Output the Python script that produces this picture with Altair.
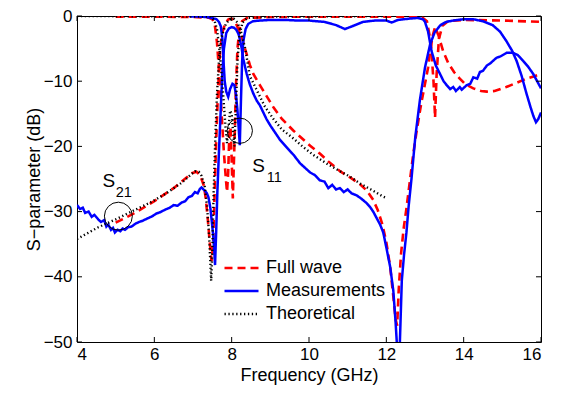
import altair as alt
import pandas as pd

# ---------------- data ----------------
SOURCES = ["Full wave", "Measurements", "Theoretical"]
COLORS = ["#ff0000", "#0000ff", "#000000"]
DASHES = [[8, 5], [1, 0], [1.3, 2.6]]
WIDTHS = [2.6, 2.4, 1.3]

X_TICKS = [4, 6, 8, 10, 12, 14, 16]
Y_TICKS = [0, -10, -20, -30, -40, -50]

# Measurements, S21
meas_s21_f = [4.0, 4.08, 4.15, 4.21, 4.3, 4.38, 4.45, 4.55, 4.62, 4.7, 4.76, 4.81, 4.88, 4.93, 4.98,
              5.05, 5.12, 5.18, 5.24, 5.32, 5.41, 5.5, 5.6, 5.7, 5.84, 5.95, 6.05, 6.15, 6.28, 6.4,
              6.5, 6.6, 6.71, 6.8, 6.88, 6.97, 7.05, 7.12, 7.18, 7.22, 7.27, 7.31, 7.36, 7.4, 7.45,
              7.48, 7.52, 7.55, 7.57, 7.6, 7.63, 7.67, 7.72, 7.76, 7.8, 7.86, 7.93, 8.0, 8.06, 8.12,
              8.18, 8.22, 8.26, 8.3, 8.39, 8.47, 8.56, 8.65, 8.73, 8.9, 9.0, 9.16, 9.25, 9.4, 9.6,
              9.77, 9.9, 10.03, 10.15, 10.28, 10.4, 10.5, 10.6, 10.7, 10.8, 10.9, 11.0, 11.1, 11.23,
              11.35, 11.49, 11.58, 11.66, 11.75, 11.84, 11.92, 12.0, 12.1, 12.18, 12.24, 12.29, 12.34,
              12.4, 12.46, 12.52, 12.58, 12.65, 12.75, 12.87, 13.0, 13.13, 13.25, 13.4, 13.55, 13.73,
              14.0, 14.25, 14.5, 14.75, 14.94, 15.1, 15.25, 15.37, 15.5, 15.62, 15.72, 15.8, 15.87,
              15.93, 16.0]
meas_s21_db = [-29.0, -29.6, -29.4, -30.2, -30.0, -30.8, -30.5, -31.2, -31.6, -31.3, -32.3, -32.0, -32.8, -32.5, -33.2,
               -32.8, -33.0, -32.6, -32.8, -32.4, -32.3, -31.9, -31.6, -31.4, -31.0, -30.7, -30.3, -30.1, -29.7, -29.4,
               -29.0, -29.1, -28.6, -28.4, -27.8, -27.6, -27.0, -27.2, -26.5, -26.3, -26.6, -26.8, -27.2, -27.8, -29.5,
               -31.2, -33.5, -36.0, -38.2, -33.0, -27.0, -21.0, -14.0, -8.5, -5.0, -2.6, -1.9, -1.7, -1.8, -2.1,
               -2.8, -3.8, -5.0, -6.6, -8.9, -10.5, -11.9, -13.0, -13.7, -15.8, -16.8, -18.2, -19.0, -20.0, -21.3,
               -22.6, -23.3, -24.0, -24.4, -25.2, -25.4, -26.4, -25.9, -26.6, -26.4, -27.0, -26.6, -27.2, -27.5,
               -28.0, -28.7, -29.3, -30.0, -31.0, -32.0, -33.2, -35.5, -38.5, -42.1, -47.0, -52.0, -52.0,
               -40.6, -36.5, -33.2, -29.0, -25.0, -18.5, -12.8, -7.9, -4.4, -2.5, -1.4, -0.9, -0.7,
               -0.5, -0.5, -0.8, -1.4, -2.4, -3.8, -5.3, -6.9, -9.2, -11.8, -13.8, -15.3, -16.3,
               -15.8, -14.8]

# Measurements, S11
meas_s11_f = [6.9, 7.2, 7.4, 7.55, 7.61, 7.67, 7.72, 7.76, 7.79, 7.82, 7.86, 7.91, 7.96, 8.02, 8.07,
              8.11, 8.15, 8.18, 8.21, 8.24, 8.27, 8.3, 8.36, 8.43, 8.55, 8.73, 9.0, 9.4, 9.7, 10.0,
              10.4, 10.7, 10.93, 11.15, 11.4, 11.7, 12.0, 12.14, 12.3, 12.6, 12.8, 12.95, 13.0, 13.08,
              13.17, 13.28, 13.39, 13.48, 13.56, 13.65, 13.73, 13.8, 13.9, 13.95, 14.08, 14.17, 14.25,
              14.35, 14.42, 14.5, 14.6, 14.7, 14.85, 14.95, 15.11, 15.28, 15.4, 15.54, 15.67, 15.8,
              15.9, 16.0]
meas_s11_db = [-0.05, -0.1, -0.2, -0.4, -0.5, -0.9, -1.6, -3.5, -7.0, -10.0, -11.6, -12.4, -11.2, -10.4, -10.6,
               -12.0, -14.5, -17.0, -19.8, -13.0, -7.0, -3.9, -2.0, -1.2, -0.8, -0.7, -0.6, -0.6, -0.7, -0.7,
               -0.9, -1.4, -2.0, -1.5, -0.9, -0.7, -0.7, -1.0, -0.6, -0.4, -0.3, -0.5, -0.9, -2.4,
               -5.4, -7.6, -8.9, -10.0, -10.6, -11.2, -10.9, -11.5, -10.9, -11.3, -10.6, -10.4, -9.4,
               -9.6, -8.6, -8.4, -7.6, -7.2, -6.4, -6.2, -5.65, -5.65, -6.0, -6.9, -7.8, -8.9,
               -10.0, -11.1]

# Full wave, S21
fw_s21_f = [5.0, 5.5, 6.0, 6.5, 6.97, 7.09, 7.16, 7.22, 7.28, 7.33, 7.38, 7.43, 7.48, 7.52, 7.56,
            7.6, 7.65, 7.7, 7.76, 7.84, 7.92, 8.0, 8.07, 8.13, 8.2, 8.26, 8.34, 8.47, 8.56, 8.73,
            9.08, 9.3, 9.6, 10.03, 10.28, 10.5, 10.8, 11.1, 11.32, 11.5, 11.66, 11.78, 11.9, 12.0,
            12.1, 12.18, 12.24, 12.28, 12.32, 12.38, 12.45, 12.52, 12.6, 12.7, 12.78, 12.9, 13.0,
            13.08, 13.13, 13.2, 13.26, 13.35, 13.47, 13.6, 13.75, 13.9, 14.05, 14.25, 14.45, 14.6,
            14.8, 15.1, 15.35, 15.63, 15.85, 16.0]
fw_s21_db = [-31.7, -30.2, -28.4, -26.4, -24.1, -23.9, -24.3, -25.0, -26.0, -28.0, -31.0, -34.5, -37.6, -35.0, -27.0,
             -19.0, -11.0, -5.5, -2.5, -1.0, -0.5, -0.4, -0.7, -1.4, -2.4, -3.2, -4.9, -7.5, -8.9, -10.6,
             -14.0, -15.8, -17.6, -19.9, -21.1, -22.3, -23.8, -24.9, -25.8, -26.8, -28.2, -29.8, -32.0, -34.7,
             -38.5, -43.0, -46.5, -47.5, -42.0, -36.5, -32.5, -29.5, -25.7, -21.0, -17.8, -13.5, -10.4,
             -7.9, -5.5, -3.0, -1.7, -3.0, -5.4, -7.2, -8.6, -9.6, -10.5, -11.1, -11.5, -11.6,
             -11.5, -10.9, -10.3, -9.6, -9.2, -8.9]

# Full wave, S11
fw_s11_f = [5.0, 6.0, 7.0, 7.4, 7.5, 7.56, 7.62, 7.68, 7.74, 7.8, 7.85, 7.88, 7.91, 7.94, 7.97,
            8.0, 8.03, 8.07, 8.11, 8.15, 8.2, 8.27, 8.4, 9.0, 10.0, 11.0, 12.0, 12.9, 13.05, 13.15,
            13.22, 13.26, 13.3, 13.36, 13.45, 13.6, 14.0, 15.0, 16.0]
fw_s11_db = [-0.1, -0.1, -0.15, -0.25, -0.5, -1.2, -4.0, -9.0, -15.0, -21.0, -25.0, -27.0, -24.0, -18.0, -17.0,
             -22.0, -28.0, -20.0, -11.0, -5.0, -2.0, -0.8, -0.3, -0.15, -0.1, -0.1, -0.1, -0.1, -0.8, -4.0,
             -10.0, -15.6, -9.0, -3.5, -1.5, -0.8, -0.6, -0.7, -0.9]

# Theoretical, S21
th_s21_f = [4.0, 4.55, 5.0, 5.41, 5.9, 6.28, 6.7, 7.05, 7.15, 7.22, 7.3, 7.36, 7.41, 7.45, 7.47,
            7.5, 7.53, 7.57, 7.62, 7.68, 7.75, 7.85, 7.95, 8.05, 8.15, 8.25, 8.35, 8.47, 8.65, 8.85,
            9.08, 9.3, 9.6, 9.85, 10.11, 10.45, 10.8, 11.05, 11.32, 11.6, 11.92, 12.0]
th_s21_db = [-34.2, -32.4, -31.2, -30.0, -28.6, -27.3, -25.6, -23.8, -23.9, -24.5, -26.0, -29.0, -33.0, -38.0, -40.6,
             -36.0, -28.0, -20.0, -12.0, -6.0, -3.0, -1.2, -0.5, -0.4, -1.0, -2.6, -5.0, -9.2, -11.4, -13.8,
             -15.8, -17.4, -18.8, -20.1, -21.3, -22.6, -23.8, -24.6, -25.7, -26.6, -27.7, -27.9]

# Theoretical, S11
th_s11_f = [4.0, 7.45, 7.55, 7.62, 7.7, 7.78, 7.84, 7.88, 7.92, 7.96, 8.0, 8.04, 8.07, 8.11, 8.15,
            8.2, 8.28, 8.4, 9.0, 12.0]
th_s11_db = [0.0, -0.1, -0.6, -2.0, -6.0, -12.0, -17.0, -19.5, -17.0, -14.5, -15.0, -18.0, -20.0, -14.0, -7.0,
             -3.0, -1.0, -0.3, -0.1, 0.0]

# annotation circles and labels
circle_f = [5.07, 8.21]
circle_db = [-30.7, -17.6]
circle_size = [780, 640]

label_f = [4.66, 8.53]
label_db = [-26.2, -24.0]
label_txt = ["S", "S"]
sub_f = [5.0, 8.91]
sub_db = [-27.8, -25.5]
sub_txt = ["21", "11"]

# ---------------- build tables ----------------
curves = [
    ("Full wave", "fw_s11", fw_s11_f, fw_s11_db),
    ("Full wave", "fw_s21", fw_s21_f, fw_s21_db),
    ("Measurements", "m_s11", meas_s11_f, meas_s11_db),
    ("Measurements", "m_s21", meas_s21_f, meas_s21_db),
    ("Theoretical", "t_s11", th_s11_f, th_s11_db),
    ("Theoretical", "t_s21", th_s21_f, th_s21_db),
]
rows = []
for src, cid, fs, ds in curves:
    for i, (f, d) in enumerate(zip(fs, ds)):
        rows.append({"source": src, "curve": cid, "f": f, "db": d, "i": i})
df = pd.DataFrame(rows)

W, H = 464, 326
FONT = "Liberation Sans"

X = alt.X("f:Q", scale=alt.Scale(domain=[4, 16], nice=False, zero=False),
          axis=alt.Axis(values=X_TICKS, title="Frequency (GHz)", ticks=False, domain=False, grid=False,
                        labelFontSize=17, labelPadding=4, titleFontSize=18, titleFontWeight="normal",
                        titlePadding=4, labelFont=FONT, titleFont=FONT, labelColor="black",
                        titleColor="black", format="d"))
Y = alt.Y("db:Q", scale=alt.Scale(domain=[-50, 0], nice=False, zero=False),
          axis=alt.Axis(values=Y_TICKS, title="S\u2212parameter (dB)", ticks=False, domain=False, grid=False,
                        labelFontSize=17, labelPadding=5, titleFontSize=18, titleFontWeight="normal",
                        titlePadding=0, labelFont=FONT, titleFont=FONT, labelColor="black",
                        titleColor="black"))

lines = alt.Chart(df).mark_line(clip=True).encode(
    x=X, y=Y,
    color=alt.Color("source:N", scale=alt.Scale(domain=SOURCES, range=COLORS), legend=alt.Legend(title=None)),
    strokeDash=alt.StrokeDash("source:N", scale=alt.Scale(domain=SOURCES, range=DASHES), legend=alt.Legend(title=None)),
    strokeWidth=alt.StrokeWidth("source:N", scale=alt.Scale(domain=SOURCES, range=WIDTHS), legend=alt.Legend(title=None)),
    detail="curve:N",
    order="i:Q",
)

circ_df = pd.DataFrame({"f": circle_f, "db": circle_db, "s": circle_size})
circles = alt.Chart(circ_df).mark_point(shape="circle", filled=False, color="black", strokeWidth=1, opacity=1).encode(
    x=X, y=Y, size=alt.Size("s:Q", scale=None, legend=None))

lab_df = pd.DataFrame({"f": label_f, "db": label_db, "t": label_txt})
labels = alt.Chart(lab_df).mark_text(align="left", baseline="alphabetic", fontSize=19, font=FONT, color="black").encode(
    x=X, y=Y, text="t:N")
sub_df = pd.DataFrame({"f": sub_f, "db": sub_db, "t": sub_txt})
subs = alt.Chart(sub_df).mark_text(align="left", baseline="alphabetic", fontSize=14.5, font=FONT, color="black").encode(
    x=X, y=Y, text="t:N")

xt = pd.DataFrame({"f": X_TICKS})
yt = pd.DataFrame({"db": Y_TICKS})
TL = 5
tick_bottom = alt.Chart(xt).mark_rule(color="black", strokeWidth=1).encode(x=X, y=alt.value(H), y2=alt.value(H - TL))
tick_top = alt.Chart(xt).mark_rule(color="black", strokeWidth=1).encode(x=X, y=alt.value(0), y2=alt.value(TL))
tick_left = alt.Chart(yt).mark_rule(color="black", strokeWidth=1).encode(y=Y, x=alt.value(0), x2=alt.value(TL))
tick_right = alt.Chart(yt).mark_rule(color="black", strokeWidth=1).encode(y=Y, x=alt.value(W - TL), x2=alt.value(W))

chart = alt.layer(lines, circles, labels, subs, tick_bottom, tick_top, tick_left, tick_right).properties(
    width=W, height=H,
    autosize=alt.AutoSizeParams(type="none"),
    padding={"left": 69, "top": 8, "right": 16, "bottom": 44},
    background="white",
).configure_view(stroke="black", strokeWidth=1).configure_legend(
    orient="none", legendX=146, legendY=242, symbolType="stroke", symbolSize=1156, clipHeight=20,
    rowPadding=3, labelFontSize=18, labelFont=FONT, labelColor="black", labelOffset=6, padding=0,
)

chart.save("out.html", embed_options={"renderer": "svg", "actions": False})
